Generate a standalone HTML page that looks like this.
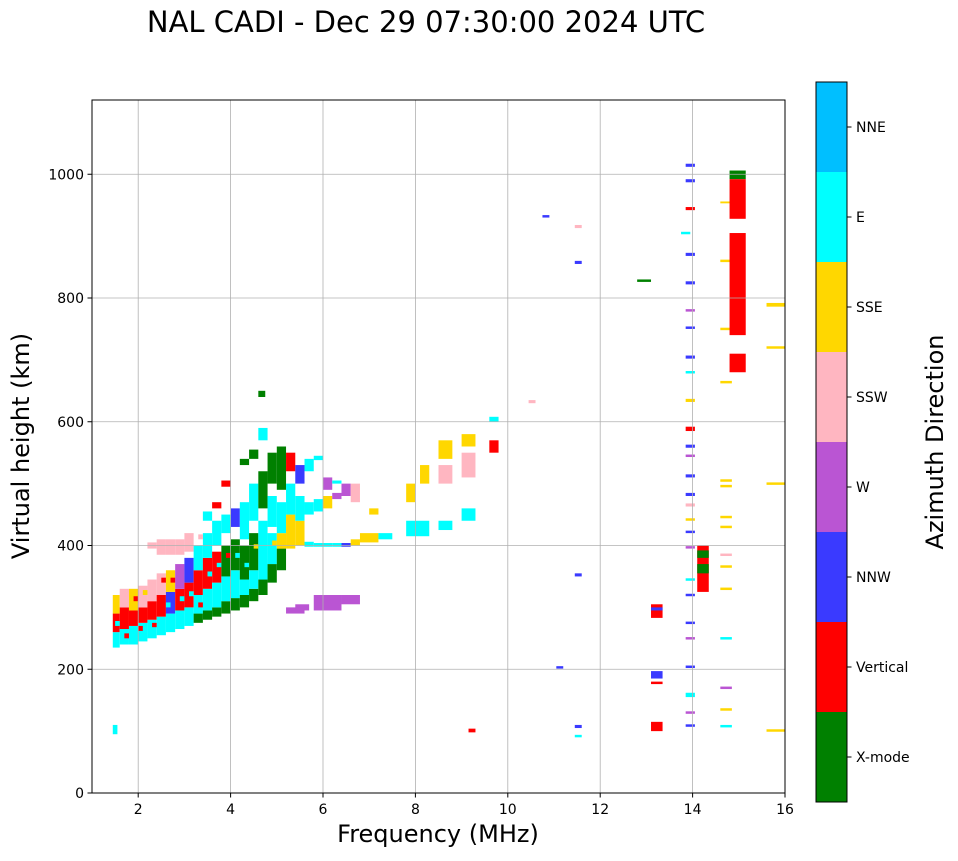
<!DOCTYPE html>
<html><head><meta charset="utf-8"><style>
body{margin:0;background:#fff;font-family:"DejaVu Sans",sans-serif}
svg text{font-family:"DejaVu Sans",sans-serif}
</style></head><body>
<svg id="chart" width="958" height="857" viewBox="0 0 958 857" xmlns="http://www.w3.org/2000/svg">
<text x="426" y="32" font-size="29" text-anchor="middle">NAL CADI - Dec 29 07:30:00 2024 UTC</text>
<g id="marks"></g>
<g id="grid"></g>
<rect x="92" y="100" width="693" height="693" fill="none" stroke="#000" stroke-width="1"/>
<g id="xt"></g>
<g id="yt"></g>
<text x="438" y="842" font-size="24" text-anchor="middle">Frequency (MHz)</text>
<text transform="translate(29,446) rotate(-90)" font-size="24" text-anchor="middle">Virtual height (km)</text>
<g id="cb"></g>
<text transform="translate(943,442) rotate(-90)" font-size="24" text-anchor="middle">Azimuth Direction</text>
</svg>
<script>
const directions=["X-mode","Vertical","NNW","W","SSW","SSE","E","NNE"];
const dirColors=["#008000","#ff0000","#3a3aff","#ba55d3","#ffb6c1","#ffd700","#00ffff","#00bfff"];
const xTicks=[2,4,6,8,10,12,14,16];
const yTicks=[0,200,400,600,800,1000];
// [fStart,fEnd,hStart,hEnd,directionIndex]
const cells=[
[1.45,1.6,235,260,6],[1.45,1.6,260,290,1],[1.45,1.6,290,320,5],
[1.6,1.8,240,265,6],[1.6,1.8,265,300,1],[1.6,1.8,300,330,4],
[1.8,2.0,240,270,6],[1.8,2.0,270,295,1],[1.8,2.0,295,330,5],
[2.0,2.2,245,275,6],[2.0,2.2,275,300,1],[2.0,2.2,300,335,4],
[2.2,2.4,250,280,6],[2.2,2.4,280,310,1],[2.2,2.4,310,345,4],[2.2,2.4,395,405,4],
[2.4,2.6,255,285,6],[2.4,2.6,285,320,1],[2.4,2.6,320,355,4],[2.4,2.6,385,410,4],
[2.6,2.8,260,290,6],[2.6,2.8,290,325,2],[2.6,2.8,325,360,5],[2.6,2.8,385,410,4],
[2.8,3.0,265,295,6],[2.8,3.0,295,330,1],[2.8,3.0,330,370,3],[2.8,3.0,385,410,4],
[3.0,3.2,270,300,6],[3.0,3.2,300,340,1],[3.0,3.2,340,380,2],[3.0,3.2,390,420,4],
[3.2,3.4,275,290,0],[3.2,3.4,290,320,6],[3.2,3.4,320,360,1],[3.2,3.4,360,400,6],
[3.4,3.6,280,295,0],[3.4,3.6,295,330,6],[3.4,3.6,330,380,1],[3.4,3.6,380,420,6],[3.4,3.6,440,455,6],
[3.6,3.8,285,300,0],[3.6,3.8,300,340,6],[3.6,3.8,340,390,1],[3.6,3.8,400,440,6],[3.6,3.8,460,470,1],
[3.8,4.0,290,310,0],[3.8,4.0,310,350,6],[3.8,4.0,350,400,0],[3.8,4.0,420,450,6],[3.8,4.0,495,505,1],
[4.0,4.2,295,315,0],[4.0,4.2,315,360,6],[4.0,4.2,360,410,0],[4.0,4.2,430,460,2],
[4.2,4.4,300,320,0],[4.2,4.4,320,345,6],[4.2,4.4,345,400,0],[4.2,4.4,410,470,6],[4.2,4.4,530,540,0],
[4.4,4.6,310,330,0],[4.4,4.6,330,360,6],[4.4,4.6,360,420,0],[4.4,4.6,440,500,6],[4.4,4.6,540,555,0],
[4.6,4.8,320,345,0],[4.6,4.8,345,440,6],[4.6,4.8,460,520,0],[4.6,4.8,570,590,6],[4.6,4.75,640,650,0],
[4.8,5.0,340,370,0],[4.8,5.0,370,420,6],[4.8,5.0,430,480,6],[4.8,5.0,500,550,0],
[5.0,5.2,360,395,0],[5.0,5.2,395,420,5],[5.0,5.2,420,470,6],[5.0,5.2,490,560,0],
[5.2,5.4,395,450,5],[5.2,5.4,450,500,6],[5.2,5.4,520,550,1],
[5.4,5.6,400,440,5],[5.4,5.6,440,480,6],[5.4,5.6,500,530,2],
[5.6,5.8,398,406,6],[5.6,5.8,450,470,6],[5.6,5.8,520,540,6],
[5.8,6.0,398,404,6],[5.8,6.0,455,475,6],[5.8,6.0,538,545,6],
[6.0,6.2,398,404,6],[6.0,6.2,460,480,5],[6.0,6.2,490,510,3],
[6.2,6.4,398,404,6],[6.2,6.4,475,485,3],[6.2,6.4,500,505,6],
[6.4,6.6,398,404,2],[6.4,6.6,480,500,3],
[6.6,6.8,400,410,5],[6.6,6.8,470,500,4],
[6.8,7.2,405,420,5],[7.0,7.2,450,460,5],[7.2,7.5,410,420,6],
[5.2,5.6,290,300,3],[5.4,5.7,295,305,3],[5.8,6.4,295,320,3],[6.4,6.8,305,320,3],
[7.8,8.3,415,440,6],[7.8,8.0,470,500,5],[8.1,8.3,500,530,5],
[8.5,8.8,425,440,6],[8.5,8.8,500,530,4],[8.5,8.8,540,570,5],
[9.0,9.3,440,460,6],[9.0,9.3,510,550,4],[9.0,9.3,560,580,5],
[9.6,9.8,550,570,1],[9.6,9.8,600,608,6],
[1.7,1.8,250,258,1],[2.0,2.1,262,270,1],[2.3,2.4,268,275,1],[2.6,2.7,300,308,6],[2.9,3.0,310,318,6],
[3.1,3.2,318,326,6],[3.5,3.6,350,358,6],[3.7,3.8,365,372,6],[3.3,3.4,300,308,1],[3.9,4.0,380,388,1],
[4.1,4.2,380,388,6],[4.3,4.4,365,372,6],[4.5,4.6,395,402,5],[2.1,2.2,320,328,5],[2.5,2.6,340,348,1],
[1.5,1.6,270,278,6],[1.9,2.0,310,318,1],[2.7,2.8,340,348,1],[3.3,3.4,410,418,4],[4.9,5.0,400,408,5],
[1.45,1.55,95,110,6],[9.15,9.3,98,104,1],[10.75,10.9,930,934,2],[11.45,11.6,913,918,4],
[11.45,11.6,855,860,2],[11.45,11.6,350,355,2],[11.05,11.2,201,205,2],[10.45,10.6,630,635,4],
[11.45,11.6,105,110,2],[11.45,11.6,90,94,6],[12.8,13.1,826,830,0],
[13.1,13.35,283,305,1],[13.1,13.35,295,300,2],[13.1,13.35,185,197,2],[13.1,13.35,176,180,1],[13.1,13.35,100,115,1],
[13.75,13.95,903,907,6],
[13.85,14.05,1012,1017,2],[13.85,14.05,987,992,2],[13.85,14.05,942,947,1],[13.85,14.05,868,873,2],[13.85,14.05,822,827,2],
[13.85,14.05,778,782,3],[13.85,14.05,750,754,2],[13.85,14.05,702,707,2],[13.85,14.05,678,682,6],[13.85,14.05,632,637,5],
[13.85,14.05,585,592,1],[13.85,14.05,558,563,2],[13.85,14.05,543,547,3],[13.85,14.05,510,515,2],[13.85,14.05,480,485,2],
[13.85,14.05,463,468,4],[13.85,14.05,440,444,5],[13.85,14.05,420,424,2],[13.85,14.05,395,399,3],[13.85,14.05,343,347,6],
[13.85,14.05,318,322,2],[13.85,14.05,273,277,2],[13.85,14.05,248,252,3],[13.85,14.05,202,206,2],[13.85,14.05,155,162,6],
[13.85,14.05,128,132,3],[13.85,14.05,107,111,2],
[14.1,14.35,325,400,1],[14.1,14.35,355,370,0],[14.1,14.35,380,392,0],
[14.6,14.85,953,956,5],[14.6,14.85,858,862,5],[14.6,14.85,748,752,5],[14.6,14.85,662,666,5],[14.6,14.85,503,507,5],
[14.6,14.85,494,498,5],[14.6,14.85,444,448,5],[14.6,14.85,428,432,5],[14.6,14.85,383,387,4],[14.6,14.85,364,368,5],
[14.6,14.85,328,332,5],[14.6,14.85,248,252,6],[14.6,14.85,168,172,3],[14.6,14.85,133,137,5],[14.6,14.85,106,110,6],
[14.8,15.15,992,1006,0],[14.8,15.15,928,992,1],[14.8,15.15,740,905,1],[14.8,15.15,680,710,1],
[15.6,16,786,792,5],[15.6,16,718,722,5],[15.6,16,498,502,5],[15.6,16,99,103,5]
];
const NS="http://www.w3.org/2000/svg";
const X=f=>92+(f-1)*693/15, Y=h=>793-h*693/1120;
function mk(t,a,p){const e=document.createElementNS(NS,t);for(const k in a)e.setAttribute(k,a[k]);p.appendChild(e);return e;}
const marks=document.getElementById('marks');
cells.forEach(c=>{
 const r=mk('rect',{x:X(c[0]),y:Y(c[3]),width:X(c[1])-X(c[0]),height:Y(c[2])-Y(c[3]),fill:dirColors[c[4]]},marks);
 
 
});
const grid=document.getElementById('grid'),xt=document.getElementById('xt'),yt=document.getElementById('yt');
xTicks.forEach(v=>{
 mk('line',{x1:X(v),x2:X(v),y1:100,y2:793,stroke:'#b0b0b0','stroke-width':0.8},grid);
 mk('line',{x1:X(v),x2:X(v),y1:793,y2:797.5,stroke:'#000'},xt);
 const t=mk('text',{x:X(v),y:814,'font-size':14,'text-anchor':'middle'},xt);t.textContent=v;
 
 
});
yTicks.forEach(v=>{
 mk('line',{x1:92,x2:785,y1:Y(v),y2:Y(v),stroke:'#b0b0b0','stroke-width':0.8},grid);
 mk('line',{x1:87.5,x2:92,y1:Y(v),y2:Y(v),stroke:'#000'},yt);
 const t=mk('text',{x:84,y:Y(v)+5,'font-size':14,'text-anchor':'end'},yt);t.textContent=v;
 
 
});
const cb=document.getElementById('cb');
directions.forEach((d,i)=>{
 const y0=802-(i+1)*90;
 const r=mk('rect',{x:816,y:y0,width:31,height:90,fill:dirColors[i]},cb);
 
 
 mk('line',{x1:847,x2:851.5,y1:y0+45,y2:y0+45,stroke:'#000'},cb);
 const t=mk('text',{x:856,y:y0+50,'font-size':14},cb);t.textContent=d;
 
 
});
mk('rect',{x:816,y:82,width:31,height:720,fill:'none',stroke:'#000','stroke-width':1},cb);
</script>
</body></html>
